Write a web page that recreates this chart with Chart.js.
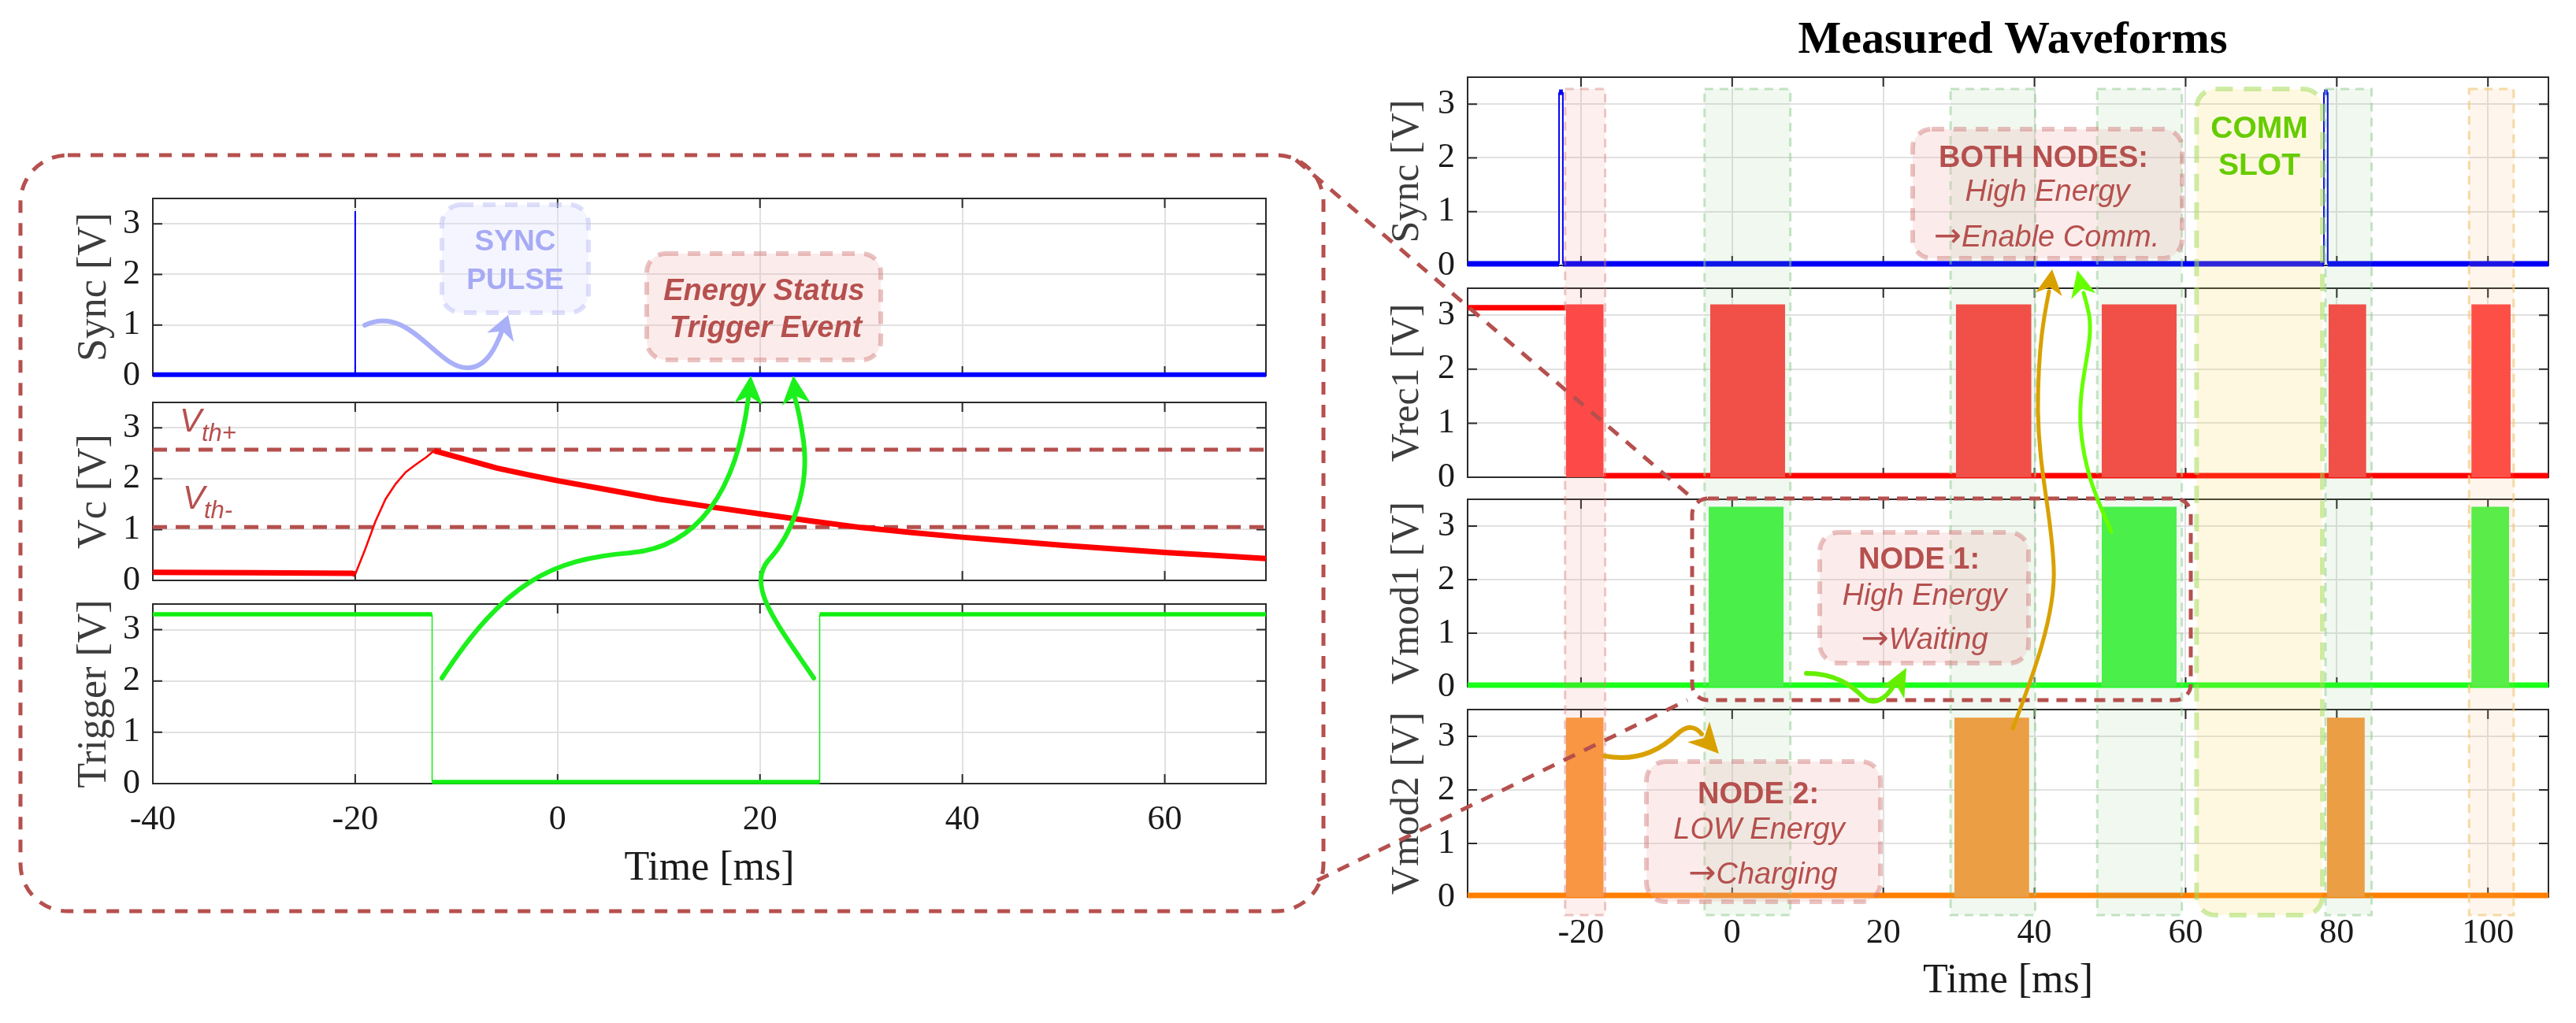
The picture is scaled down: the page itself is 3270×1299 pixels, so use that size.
<!DOCTYPE html>
<html>
<head>
<meta charset="utf-8">
<script src="https://cdn.jsdelivr.net/npm/chart.js@4.4.1/dist/chart.umd.min.js"></script>
<style>
html, body { margin: 0; padding: 0; background: #fff; }
#page { position: relative; width: 3270px; height: 1299px; overflow: hidden; background: #fff; }
#page canvas { position: absolute; }
#overlay { left: 0; top: 0; z-index: 10; }
</style>
</head>
<body>
<div id="page"><canvas id="overlay" width="3270" height="1299"></canvas></div>
<script>
// --- DATOS ---

const L_X_TICKS = [-40, -20, 0, 20, 40, 60];
const R_X_TICKS = [-20, 0, 20, 40, 60, 80, 100];
const Y_TICKS = [0, 1, 2, 3];

// panel izquierdo
const L_SYNC_T = [-40, -20, -20, -20, 70];
const L_SYNC_V = [0.02, 0.02, 3.25, 0.02, 0.02];

const VC_T = [-40, -30, -20.3, -20, -19, -18, -17, -16, -15, -14, -13, -12.2, -10, -6, -3, 0, 5, 10, 15, 20, 25, 30, 35, 40, 45, 50, 55, 60, 65, 70];
const VC_V = [0.16, 0.15, 0.14, 0.12, 0.62, 1.16, 1.6, 1.9, 2.13, 2.28, 2.42, 2.55, 2.43, 2.21, 2.08, 1.96, 1.78, 1.6, 1.45, 1.31, 1.17, 1.04, 0.94, 0.85, 0.77, 0.69, 0.62, 0.55, 0.49, 0.43];
const VTH_HI = 2.57;
const VTH_LO = 1.05;

const TRIG_T = [-40, -12.4, -12.4, 25.9, 25.9, 70];
const TRIG_V = [3.3, 3.3, 0.03, 0.03, 3.3, 3.3];

// panel derecho
const R_SYNC_T = [-35, -22.9, -22.9, -22.4, -22.4, 78.3, 78.3, 78.8, 78.8, 108];
const R_SYNC_V = [0.03, 0.03, 3.22, 3.22, 0.03, 0.03, 3.22, 3.22, 0.03, 0.03];

const VREC1_PRE_T = [-35, -22.0];
const VREC1_PRE_V = [3.14, 3.14];
const VREC1_BASE_T = [-17.0, 108];
const VREC1_BASE_V = [0.03, 0.03];
const VREC1_ON = [[-22.0, -17.0], [-2.9, 7.0], [29.6, 39.6], [48.9, 58.8], [78.9, 83.9], [97.8, 103.0]];
const VREC1_HIGH = 3.2;

const VMOD1_BASE_T = [-35, 108];
const VMOD1_BASE_V = [0.03, 0.03];
const VMOD1_ON = [[-3.1, 6.8], [48.9, 58.8], [97.8, 102.8]];
const VMOD1_HIGH = 3.36;

const VMOD2_BASE_T = [-35, 108];
const VMOD2_BASE_V = [0.03, 0.03];
const VMOD2_ON = [[-22.0, -17.0], [29.4, 39.3], [78.7, 83.7]];
const VMOD2_HIGH = 3.35;

// franjas sombreadas (ms)
const BAND_PINK = [[-22.1, -16.8]];
const BAND_GREEN = [[-3.65, 7.7], [28.9, 40.1], [48.3, 59.5], [78.5, 84.6]];
const BAND_ORANGE = [[97.5, 103.4]];
const COMM_SLOT = [61.45, 78.1];

// --- ESTILO ---
const SERIF = '"Liberation Serif", "Times New Roman", serif';
const SANS = '"Liberation Sans", Arial, sans-serif';
const ARROW_FONT = '42px "DejaVu Sans", sans-serif';
const GRID = '#e1e1e1';
const BRICK = '#b5504e';

const page = document.getElementById('page');
const overlay = document.getElementById('overlay');

function pts(ts, vs) {
    return ts.map((t, i) => ({ x: t, y: vs[i] }));
}

// una serie por bloque (rectángulo relleno hasta 0)
function blockSets(ranges, high, color) {
    return ranges.map(([a, b]) => ({
        data: [{ x: a, y: 0 }, { x: a, y: high }, { x: b, y: high }, { x: b, y: 0 }],
        borderWidth: 0,
        backgroundColor: color,
        fill: 'origin',
        order: 1
    }));
}

function lineSet(data, color, width, extra) {
    return Object.assign({
        data: data,
        borderColor: color,
        borderWidth: width,
        fill: false,
        clip: 10,
        order: 2
    }, extra || {});
}

// caja tipo MATLAB con marcas hacia dentro
const boxPlugin = {
    id: 'matlabBox',
    beforeDatasetsDraw(chart) {
        const { ctx, chartArea: a, scales: { x, y } } = chart;
        ctx.save();
        ctx.strokeStyle = '#2b2b2b';
        ctx.lineWidth = 2;
        ctx.strokeRect(a.left, a.top, a.width, a.height);
        ctx.beginPath();
        x.ticks.forEach(t => {
            const px = x.getPixelForValue(t.value);
            ctx.moveTo(px, a.bottom); ctx.lineTo(px, a.bottom - 12);
            ctx.moveTo(px, a.top); ctx.lineTo(px, a.top + 12);
        });
        y.ticks.forEach(t => {
            const py = y.getPixelForValue(t.value);
            ctx.moveTo(a.left, py); ctx.lineTo(a.left + 12, py);
            ctx.moveTo(a.right, py); ctx.lineTo(a.right - 12, py);
        });
        ctx.stroke();
        ctx.restore();
    }
};

function xScale(min, max, ticks, showLabels, titleText, height) {
    return {
        type: 'linear', min: min, max: max,
        afterBuildTicks: s => { s.ticks = ticks.map(v => ({ value: v })); },
        afterFit: s => { s.height = height; s.paddingLeft = 0; s.paddingRight = 0; },
        grid: { color: GRID, lineWidth: 2, drawTicks: false },
        border: { display: false },
        ticks: {
            display: showLabels, color: '#1a1a1a', padding: 20,
            font: { family: SERIF, size: 44 }, maxRotation: 0, autoSkip: false
        },
        title: {
            display: !!titleText, text: titleText || '', color: '#1a1a1a',
            font: { family: SERIF, size: 52 }, padding: 0
        }
    };
}

function yScale(titleText, width, titlePad, titleSize) {
    return {
        type: 'linear', min: 0, max: 3.5,
        afterBuildTicks: s => { s.ticks = Y_TICKS.map(v => ({ value: v })); },
        afterFit: s => { s.width = width; s.paddingTop = 0; s.paddingBottom = 0; },
        grid: { color: GRID, lineWidth: 2, drawTicks: false },
        border: { display: false },
        ticks: { color: '#1a1a1a', padding: 16, font: { family: SERIF, size: 44 } },
        title: {
            display: true, text: titleText, color: '#3c3c3c',
            font: { family: SERIF, size: titleSize }, padding: { top: titlePad, bottom: 0 }
        }
    };
}

function makeChart(area, yW, xH, padRight, datasets, xOpts, yOpts) {
    const padTop = 20;
    const left = area.x0 - yW;
    const top = area.y0 - padTop;
    const w = area.x1 - left + padRight;
    const h = padTop + (area.y1 - area.y0) + xH;
    const cv = document.createElement('canvas');
    cv.width = w; cv.height = h;
    cv.style.left = left + 'px'; cv.style.top = top + 'px';
    cv.style.width = w + 'px'; cv.style.height = h + 'px';
    page.insertBefore(cv, overlay);
    const chart = new Chart(cv, {
        type: 'line',
        data: { datasets: datasets },
        options: {
            responsive: false, animation: false, devicePixelRatio: 1, events: [],
            layout: { autoPadding: false, padding: { left: 0, right: padRight, top: padTop, bottom: 0 } },
            plugins: { legend: { display: false }, tooltip: { enabled: false } },
            elements: { point: { radius: 0 }, line: { tension: 0 } },
            scales: { x: xOpts, y: yOpts }
        },
        plugins: [boxPlugin]
    });
    chart.$left = left;
    chart.$top = top;
    return chart;
}

// grosores: flancos verticales finos, tramos horizontales gruesos
const thinVertical = (thin, thick) => ({
    borderWidth: c => (c.p0.parsed.x === c.p1.parsed.x ? thin : thick)
});

// --- PANEL IZQUIERDO ---
const L_AREA_X = [194, 1607];
const L_Y_W = 194, L_PAD_R = 43, L_TITLE_PAD = 89;

makeChart({ x0: L_AREA_X[0], x1: L_AREA_X[1], y0: 252, y1: 477 }, L_Y_W, 12, L_PAD_R, [
    lineSet(pts(L_SYNC_T, L_SYNC_V), '#0000ff', 6, { segment: thinVertical(2, 6) })
], xScale(-40, 70, L_X_TICKS, false, null, 12), yScale('Sync [V]', L_Y_W, L_TITLE_PAD, 52));

makeChart({ x0: L_AREA_X[0], x1: L_AREA_X[1], y0: 511, y1: 737 }, L_Y_W, 12, L_PAD_R, [
    lineSet(pts(VC_T, VC_V), '#ff0000', 7, {
        order: 1,
        segment: { borderWidth: c => (c.p1.parsed.y - c.p0.parsed.y > 0.05 ? 2.5 : 7) }
    }),
    lineSet(pts([-40, 70], [VTH_HI, VTH_HI]), BRICK, 5, { borderDash: [18, 11], clip: 0 }),
    lineSet(pts([-40, 70], [VTH_LO, VTH_LO]), BRICK, 5, { borderDash: [18, 11], clip: 0 })
], xScale(-40, 70, L_X_TICKS, false, null, 12), yScale('Vc [V]', L_Y_W, L_TITLE_PAD, 52));

makeChart({ x0: L_AREA_X[0], x1: L_AREA_X[1], y0: 767, y1: 995 }, L_Y_W, 140, L_PAD_R, [
    lineSet(pts(TRIG_T, TRIG_V), '#11ee11', 5, { segment: thinVertical(1.5, 5.5) })
], xScale(-40, 70, L_X_TICKS, true, 'Time [ms]', 140), yScale('Trigger [V]', L_Y_W, L_TITLE_PAD, 52));

// --- PANEL DERECHO ---
const R_AREA_X = [1863, 3235];
const R_Y_W = 163, R_PAD_R = 35, R_TITLE_PAD = 57;

const rSync = makeChart({ x0: R_AREA_X[0], x1: R_AREA_X[1], y0: 98, y1: 337 }, R_Y_W, 12, R_PAD_R, [
    lineSet(pts(R_SYNC_T, R_SYNC_V), '#0000f5', 7, {
        segment: { borderWidth: c => (c.p0.parsed.y === c.p1.parsed.y ? 7 : 2) }
    })
], xScale(-35, 108, R_X_TICKS, false, null, 12), yScale('Sync [V]', R_Y_W, R_TITLE_PAD, 50));

makeChart({ x0: R_AREA_X[0], x1: R_AREA_X[1], y0: 366, y1: 606 }, R_Y_W, 12, R_PAD_R, [
    ...blockSets(VREC1_ON, VREC1_HIGH, '#ff4343'),
    lineSet(pts(VREC1_PRE_T, VREC1_PRE_V), '#ff0000', 7),
    lineSet(pts(VREC1_BASE_T, VREC1_BASE_V), '#ff0000', 7)
], xScale(-35, 108, R_X_TICKS, false, null, 12), yScale('Vrec1 [V]', R_Y_W, R_TITLE_PAD, 50));

makeChart({ x0: R_AREA_X[0], x1: R_AREA_X[1], y0: 634, y1: 872 }, R_Y_W, 12, R_PAD_R, [
    ...blockSets(VMOD1_ON, VMOD1_HIGH, '#45f545'),
    lineSet(pts(VMOD1_BASE_T, VMOD1_BASE_V), '#1aff1a', 7)
], xScale(-35, 108, R_X_TICKS, false, null, 12), yScale('Vmod1 [V]', R_Y_W, R_TITLE_PAD, 50));

makeChart({ x0: R_AREA_X[0], x1: R_AREA_X[1], y0: 901, y1: 1139 }, R_Y_W, 139, R_PAD_R, [
    ...blockSets(VMOD2_ON, VMOD2_HIGH, '#fa9a3e'),
    lineSet(pts(VMOD2_BASE_T, VMOD2_BASE_V), '#ff7f00', 7)
], xScale(-35, 108, R_X_TICKS, true, 'Time [ms]', 139), yScale('Vmod2 [V]', R_Y_W, R_TITLE_PAD, 50));

// --- CAPA DE ANOTACIONES ---
const ctx = overlay.getContext('2d');
const rx = v => rSync.$left + rSync.scales.x.getPixelForValue(v);
const BAND_TOP = 113, BAND_BOTTOM = 1162;

function roundRectPath(x, y, w, h, r) {
    ctx.beginPath();
    ctx.moveTo(x + r, y);
    ctx.lineTo(x + w - r, y);
    ctx.arcTo(x + w, y, x + w, y + r, r);
    ctx.lineTo(x + w, y + h - r);
    ctx.arcTo(x + w, y + h, x + w - r, y + h, r);
    ctx.lineTo(x + r, y + h);
    ctx.arcTo(x, y + h, x, y + h - r, r);
    ctx.lineTo(x, y + r);
    ctx.arcTo(x, y, x + r, y, r);
    ctx.closePath();
}

function band(a, b, fill, stroke) {
    const x0 = rx(a), x1 = rx(b);
    ctx.fillStyle = fill;
    ctx.fillRect(x0, BAND_TOP, x1 - x0, BAND_BOTTOM - BAND_TOP);
    ctx.setLineDash([11, 8]);
    ctx.lineWidth = 3;
    ctx.strokeStyle = stroke;
    ctx.strokeRect(x0, BAND_TOP, x1 - x0, BAND_BOTTOM - BAND_TOP);
    ctx.setLineDash([]);
}

function noteBox(x0, y0, x1, y1, fill, stroke, width, dash, r) {
    roundRectPath(x0, y0, x1 - x0, y1 - y0, r);
    if (fill) { ctx.fillStyle = fill; ctx.fill(); }
    ctx.setLineDash(dash);
    ctx.lineWidth = width;
    ctx.strokeStyle = stroke;
    ctx.stroke();
    ctx.setLineDash([]);
}

function text(str, cx, baseline, font, color) {
    ctx.font = font;
    ctx.fillStyle = color;
    ctx.textAlign = 'center';
    ctx.textBaseline = 'alphabetic';
    ctx.fillText(str, cx, baseline);
}

// flecha "→" en otra fuente + palabra en cursiva, centrado conjunto
function arrowText(word, cx, baseline, color) {
    const wordFont = 'italic 38px ' + SANS;
    ctx.font = ARROW_FONT;
    const wa = ctx.measureText('\u2192').width;
    ctx.font = wordFont;
    const ww = ctx.measureText(word).width;
    const x0 = cx - (wa + ww) / 2;
    ctx.fillStyle = color;
    ctx.textAlign = 'left';
    ctx.textBaseline = 'alphabetic';
    ctx.font = ARROW_FONT;
    ctx.fillText('\u2192', x0, baseline);
    ctx.font = wordFont;
    ctx.fillText(word, x0 + wa, baseline);
}

function arrow(path, tip, from, color, width, len, wid) {
    ctx.strokeStyle = color;
    ctx.lineWidth = width;
    ctx.lineCap = 'round';
    ctx.stroke(new Path2D(path));
    const ang = Math.atan2(tip[1] - from[1], tip[0] - from[0]);
    ctx.save();
    ctx.translate(tip[0], tip[1]);
    ctx.rotate(ang);
    ctx.beginPath();
    ctx.moveTo(0, 0);
    ctx.lineTo(-len, -wid / 2);
    ctx.lineTo(-len * 0.72, 0);
    ctx.lineTo(-len, wid / 2);
    ctx.closePath();
    ctx.fillStyle = color;
    ctx.fill();
    ctx.restore();
}

// franjas
BAND_PINK.forEach(([a, b]) => band(a, b, 'rgba(235,120,110,0.12)', 'rgba(215,130,130,0.45)'));
BAND_GREEN.forEach(([a, b]) => band(a, b, 'rgba(120,190,120,0.11)', 'rgba(150,205,150,0.55)'));
BAND_ORANGE.forEach(([a, b]) => band(a, b, 'rgba(245,175,110,0.12)', 'rgba(240,200,120,0.65)'));
noteBox(rx(COMM_SLOT[0]), BAND_TOP, rx(COMM_SLOT[1]), BAND_BOTTOM,
    'rgba(255,215,90,0.18)', 'rgba(165,220,95,0.55)', 6, [22, 14], 24);

// recuadro del zoom y líneas de conexión
noteBox(26, 197, 1680, 1157, null, BRICK, 5, [16, 13], 60);
ctx.strokeStyle = BRICK;
ctx.lineWidth = 5;
ctx.setLineDash([16, 13]);
ctx.beginPath();
ctx.moveTo(1645, 203); ctx.lineTo(2150, 634);
ctx.moveTo(1672, 1118); ctx.lineTo(2142, 889);
ctx.stroke();
ctx.setLineDash([]);
noteBox(2148, 633, 2781, 889, null, BRICK, 5, [14, 10], 20);

// cuadros de texto
const BOX_FILL = 'rgba(240,180,175,0.25)';
const BOX_LINE = 'rgba(205,110,110,0.42)';
noteBox(561, 260, 747, 397, 'rgba(225,225,255,0.35)', 'rgba(190,192,245,0.5)', 6, [16, 12], 24);
noteBox(821, 322, 1118, 457, BOX_FILL, BOX_LINE, 6, [16, 12], 24);
noteBox(2428, 164, 2770, 328, BOX_FILL, BOX_LINE, 6, [16, 12], 24);
noteBox(2310, 676, 2575, 842, BOX_FILL, BOX_LINE, 6, [16, 12], 24);
noteBox(2090, 967, 2387, 1145, BOX_FILL, BOX_LINE, 6, [16, 12], 24);

text('SYNC', 654, 318, 'bold 37px ' + SANS, '#a7aaf4');
text('PULSE', 654, 367, 'bold 37px ' + SANS, '#a7aaf4');
text('Energy Status', 970, 381, 'italic bold 38px ' + SANS, BRICK);
text('Trigger Event', 972, 428, 'italic bold 38px ' + SANS, BRICK);

text('BOTH NODES:', 2594, 212, 'bold 38px ' + SANS, BRICK);
text('High Energy', 2599, 255, 'italic 38px ' + SANS, BRICK);
arrowText('Enable Comm.', 2598, 313, BRICK);

text('NODE 1:', 2436, 722, 'bold 38px ' + SANS, BRICK);
text('High Energy', 2443, 768, 'italic 38px ' + SANS, BRICK);
arrowText('Waiting', 2443, 824, BRICK);

text('NODE 2:', 2232, 1020, 'bold 38px ' + SANS, BRICK);
text('LOW Energy', 2233, 1065, 'italic 38px ' + SANS, BRICK);
arrowText('Charging', 2238, 1122, BRICK);

text('COMM', 2868, 175, 'bold 39px ' + SANS, '#66cc00');
text('SLOT', 2868, 222, 'bold 39px ' + SANS, '#66cc00');

// etiquetas de umbral
ctx.textAlign = 'left';
ctx.fillStyle = BRICK;
ctx.font = 'italic 42px ' + SANS;
ctx.fillText('V', 228, 548);
ctx.fillText('V', 232, 646);
ctx.font = 'italic 31px ' + SANS;
ctx.fillText('th+', 256, 560);
ctx.fillText('th-', 259, 658);

// título
text('Measured Waveforms', 2555, 67, 'bold 58px ' + SERIF, '#000');

// flechas
arrow('M463 413 C 520 385, 555 470, 595 467 C 618 466, 630 440, 638 418',
    [645, 400], [634, 432], '#a9b0f8', 6, 30, 36);
arrow('M561 861 C 640 740, 700 710, 800 702 C 885 695, 935 625, 950 505',
    [953, 477], [950, 515], '#1cf01c', 6, 36, 36);
arrow('M1033 861 C 985 790, 948 745, 975 712 C 1005 680, 1028 620, 1020 560 Q 1015 525 1009 505',
    [1007, 477], [1011, 515], '#1cf01c', 6, 36, 36);

arrow('M2037 960 C 2080 968, 2110 950, 2128 933 C 2142 920, 2152 922, 2160 932',
    [2182, 957], [2155, 928], '#d9a100', 6, 38, 38);
arrow('M2555 925 C 2580 860, 2610 780, 2607 720 C 2604 650, 2588 600, 2587 520 C 2587 440, 2595 400, 2601 370',
    [2605, 342], [2600, 380], '#d9a100', 5, 32, 34);
arrow('M2680 675 C 2665 640, 2645 600, 2641 540 C 2638 480, 2658 440, 2652 400 Q 2649 385 2645 372',
    [2637, 343], [2647, 385], '#66ff00', 5, 34, 32);
arrow('M2293 855 C 2330 855, 2350 870, 2365 885 C 2380 898, 2395 885, 2403 872',
    [2420, 848], [2403, 880], '#66ee00', 6, 36, 32);
</script>
</body>
</html>
